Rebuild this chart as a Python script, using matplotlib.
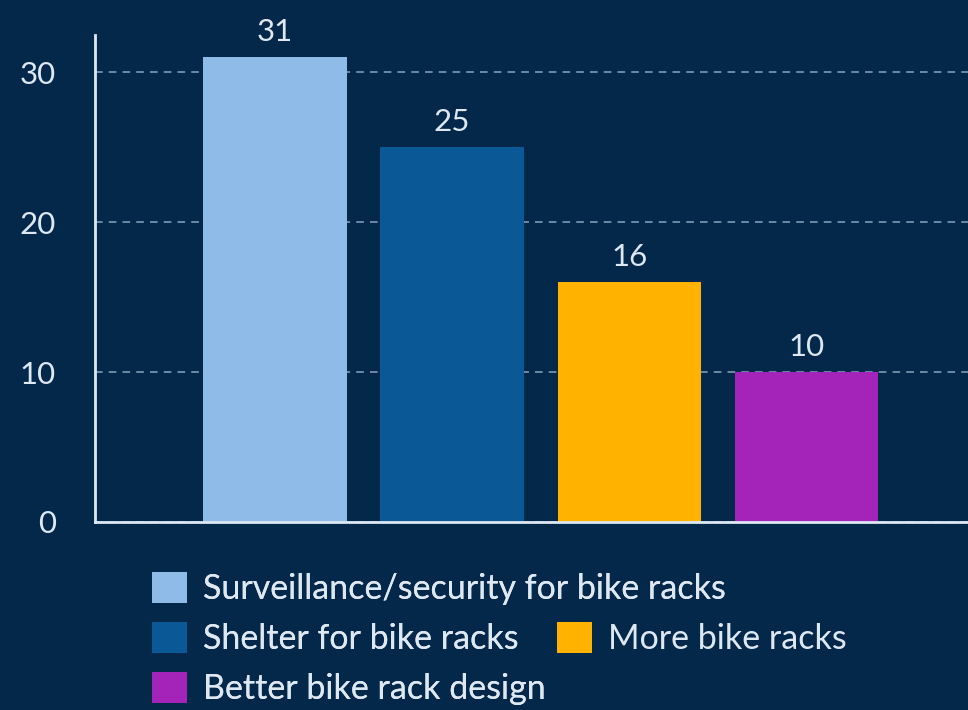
import matplotlib

matplotlib.use("Agg")
import matplotlib.pyplot as plt
from matplotlib.patches import Patch

categories = [
    "Surveillance/security for bike racks",
    "Shelter for bike racks",
    "More bike racks",
    "Better bike rack design",
]
values = [31, 25, 16, 10]
colors = ["#8fbbe8", "#0b5896", "#ffb200", "#a424b9"]
yticks = [0, 10, 20, 30]

BG = "#03284a"
FG = "#dde8f2"

plt.rcParams["font.family"] = ["Lato", "DejaVu Sans"]

fig = plt.figure(figsize=(9.68, 7.10), dpi=100, facecolor=BG)
ax = fig.add_axes([0.0981, 0.2648, 0.9019, 0.686])
ax.set_facecolor(BG)

x = list(range(len(values)))
bars = ax.bar(x, values, width=0.81, color=colors, zorder=3)
for bar, v in zip(bars, values):
    ax.text(bar.get_x() + bar.get_width() / 2, v + 0.75, f"{v}", ha="center", va="bottom",
            color=FG, fontsize=22.5)

ax.set_xlim(-1.015, 3.91)
ax.set_ylim(0, 32.5)
ax.set_xticks([])
ax.set_yticks(yticks)
ax.tick_params(axis="y", length=0, pad=28, labelsize=22.5, labelcolor=FG)
ax.grid(True, axis="y", color="#a9c3dc", linestyle=(0, (5, 4)), linewidth=1.1, alpha=0.8, zorder=1)
for side in ("top", "right"):
    ax.spines[side].set_visible(False)
for side in ("left", "bottom"):
    ax.spines[side].set_color(FG)
    ax.spines[side].set_linewidth(2)
    ax.spines[side].set_zorder(4)

handles = [Patch(facecolor=c, edgecolor="none") for c in colors]
leg_kw = dict(frameon=False, fontsize=24.5, labelcolor=FG, handlelength=1.03, handleheight=1.03,
              handletextpad=0.47, labelspacing=0.5, borderaxespad=0, borderpad=0)
leg1 = fig.legend([handles[0], handles[1], handles[3]], [categories[0], categories[1], categories[3]],
                  loc="upper left", bbox_to_anchor=(0.157, 0.195), **leg_kw)
fig.legend([handles[2]], [categories[2]], loc="upper left", bbox_to_anchor=(0.575, 0.124), **leg_kw)
fig.add_artist(leg1)

fig.savefig("out.png", dpi=100, facecolor=BG)
